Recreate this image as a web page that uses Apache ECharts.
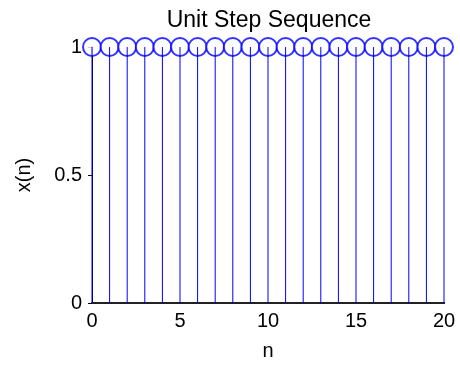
<!DOCTYPE html>
<html><head><meta charset="utf-8">
<script src="https://cdn.jsdelivr.net/npm/echarts@6/dist/echarts.min.js"></script>
<style>html,body{margin:0;padding:0;background:#fff}#c{width:460px;height:366px}</style>
</head><body><div id="c"></div>
<script>
const nValues = [0,1,2,3,4,5,6,7,8,9,10,11,12,13,14,15,16,17,18,19,20];
const xValues = [1,1,1,1,1,1,1,1,1,1,1,1,1,1,1,1,1,1,1,1,1];
const xTicks = [0,5,10,15,20];
const yTicks = [0,0.5,1];
const data = nValues.map((n,i)=>[n,xValues[i]]);
const chart = echarts.init(document.getElementById('c'));
const font = 'Liberation Sans, Arial, sans-serif';
chart.setOption({
  animation:false,
  title:{text:'Unit Step Sequence',left:264,top:4,textAlign:'center',
    textStyle:{fontFamily:font,fontSize:23,fontWeight:'normal',color:'#000'}},
  grid:{left:92,right:16,top:47,bottom:62},
  xAxis:[{type:'value',min:0,max:20,interval:5,name:'n',nameLocation:'middle',nameGap:38,
    nameTextStyle:{fontFamily:font,fontSize:20,color:'#000'},
    axisLine:{onZero:false,lineStyle:{color:'#000',width:2}},
    axisTick:{show:false},
    axisLabel:{fontFamily:font,fontSize:20,color:'#000',margin:8,
      formatter:v=>xTicks.includes(v)?String(v):''},
    splitLine:{show:false}},
   {type:'value',position:'top',min:0,max:20,interval:5,
    axisLine:{lineStyle:{color:'#222',width:2}},axisTick:{show:false},
    axisLabel:{show:false},splitLine:{show:false}}],
  yAxis:[{type:'value',min:0,max:1,interval:0.5,name:'x(n)',nameLocation:'middle',nameGap:58,
    nameTextStyle:{fontFamily:font,fontSize:20,color:'#000'},
    axisLine:{show:true,lineStyle:{color:'#000',width:1}},
    axisTick:{show:false},
    axisLabel:{fontFamily:font,fontSize:20,color:'#000',margin:10,
      formatter:v=>yTicks.includes(v)?String(v):''},
    splitLine:{show:false}},
   {type:'value',position:'right',min:0,max:1,interval:0.5,
    axisLine:{show:true,lineStyle:{color:'#000',width:1}},
    axisTick:{show:true,inside:true,length:4,lineStyle:{color:'#000'}},
    axisLabel:{show:false},splitLine:{show:false}}],
  series:[
    {type:'custom',clip:false,z:3,data:data,
     renderItem:function(params,api){
       const p1=api.coord([api.value(0),0]);
       const p2=api.coord([api.value(0),api.value(1)]);
       return {type:'line',shape:{x1:p1[0],y1:p1[1],x2:p2[0],y2:p2[1]},
         style:{stroke:'#0000ff',lineWidth:1}};
     }},
    {type:'scatter',data:data,symbol:'emptyCircle',symbolSize:18,clip:false,z:2,
     itemStyle:{color:'#0000ff',borderColor:'#0000ff',borderWidth:1}}
  ]
});
</script></body></html>
